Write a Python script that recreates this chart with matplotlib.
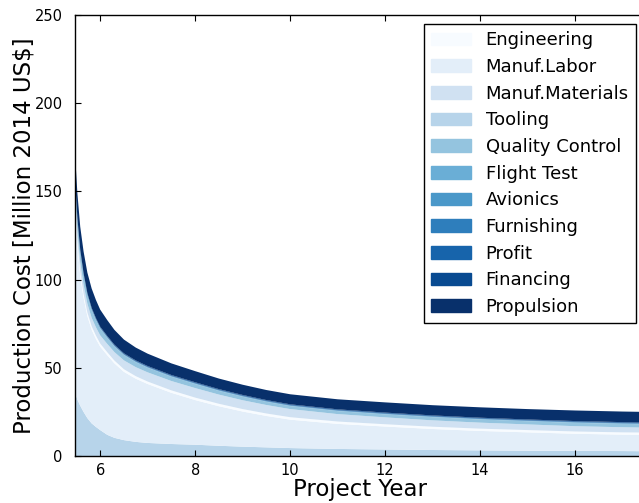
import numpy as np
import matplotlib
matplotlib.use("Agg")
import matplotlib.pyplot as plt
from matplotlib.patches import Patch

# Project years at which the cost breakdown is sampled
years = [5.47, 5.52, 5.58, 5.65, 5.73, 5.82, 5.91, 6.0, 6.15, 6.3, 6.5, 6.75,
         7.0, 7.5, 8.0, 8.5, 9.0, 9.5, 10.0, 11.0, 12.0, 13.0, 14.0, 15.0,
         16.0, 17.0, 17.47]

# Cost components [Million 2014 US$]
tooling = [36, 32, 28.5, 25, 21.5, 18.5, 16.5, 14.7, 12.0, 10.3, 9.0, 8.0,
           7.4, 6.8, 6.4, 5.8, 5.3, 4.9, 4.5, 4.0, 3.7, 3.4, 3.2, 3.0,
           2.9, 2.8, 2.7]
manuf_labor = [104.5, 87.3, 73.7, 64.8, 57.8, 53.1, 49.9, 47.3, 45.1, 42.2, 38.7, 35.8,
               33.4, 29.0, 25.3, 22.4, 19.9, 17.8, 16.1, 14.2, 13.0, 11.9, 11.0, 10.4,
               9.7, 9.3, 9.3]
engineering = [2.5, 2.4, 2.3, 2.2, 2.1, 2.0, 1.9, 1.8, 1.7, 1.6, 1.5, 1.45,
               1.4, 1.4, 1.4, 1.4, 1.4, 1.4, 1.4, 1.35, 1.3, 1.3, 1.3, 1.3,
               1.3, 1.3, 1.3]
manuf_materials = [6.0, 5.8, 5.5, 5.2, 5.0, 4.8, 4.7, 4.6, 4.7, 4.8, 5.0, 5.1,
                   5.2, 5.3, 5.4, 5.2, 5.0, 4.8, 4.6, 4.2, 3.9, 3.6, 3.4, 3.2,
                   3.0, 2.9, 2.8]
quality_control = [7.0, 6.5, 6.0, 5.5, 5.0, 4.6, 4.2, 3.9, 3.5, 3.2, 3.0, 2.8,
                   2.6, 2.4, 2.3, 2.1, 2.0, 1.8, 1.7, 1.7, 1.7, 1.8, 1.8, 1.8,
                   1.9, 1.9, 1.9]
flight_test = [0.2] * 27
avionics = [0.1] * 27
furnishing = [0.1] * 27
profit = [0.25] * 27
financing = [0.35] * 27
propulsion = [15.0, 14.0, 13.0, 12.3, 11.6, 11.0, 10.3, 9.7, 9.0, 8.4, 7.8, 7.3,
              7.0, 6.6, 6.3, 6.0, 5.8, 5.7, 5.7, 5.7, 5.8, 5.8, 5.9, 5.9,
              6.0, 6.0, 6.0]

labels = ["Engineering", "Manuf.Labor", "Manuf.Materials", "Tooling",
          "Quality Control", "Flight Test", "Avionics", "Furnishing",
          "Profit", "Financing", "Propulsion"]
series = dict(zip(labels, [engineering, manuf_labor, manuf_materials, tooling,
                           quality_control, flight_test, avionics, furnishing,
                           profit, financing, propulsion]))
colors = dict(zip(labels, plt.cm.Blues(np.linspace(0, 1, len(labels)))))

# order of the layers from the bottom of the stack upwards
stack_order = ["Tooling", "Manuf.Labor", "Engineering", "Manuf.Materials",
               "Quality Control", "Flight Test", "Avionics", "Furnishing",
               "Profit", "Financing", "Propulsion"]

plt.rcParams.update({
    "font.family": "DejaVu Sans",
    "xtick.direction": "in",
    "ytick.direction": "in",
    "xtick.top": True,
    "ytick.right": True,
    "xtick.major.size": 4,
    "ytick.major.size": 4,
    "axes.linewidth": 1.0,
})

fig = plt.figure(figsize=(6.39, 5.03), dpi=100)
ax = fig.add_axes([75 / 639, 47 / 503, 570 / 639, 441 / 503])

ax.stackplot(years, [series[k] for k in stack_order],
             colors=[colors[k] for k in stack_order], linewidth=0)

ax.set_xlim(5.47, 17.47)
ax.set_ylim(0, 250)
ax.set_xticks([6, 8, 10, 12, 14, 16])
ax.set_yticks([0, 50, 100, 150, 200, 250])
ax.tick_params(axis="both", labelsize=10.5)
ax.tick_params(axis="y", pad=9)
ax.tick_params(axis="x", pad=5)
ax.set_xlabel("Project Year", fontsize=16.5, labelpad=0)
ax.set_ylabel("Production Cost [Million 2014 US$]", fontsize=16.5, labelpad=-1)

handles = [Patch(facecolor=colors[k], edgecolor=colors[k]) for k in labels]
leg = ax.legend(handles, labels, loc="upper right", fontsize=13,
                fancybox=False, framealpha=1, edgecolor="black",
                handlelength=2.2, labelspacing=0.48, borderaxespad=0.5)
leg.get_frame().set_linewidth(1.0)

fig.savefig("out.png", dpi=100, facecolor="white")
